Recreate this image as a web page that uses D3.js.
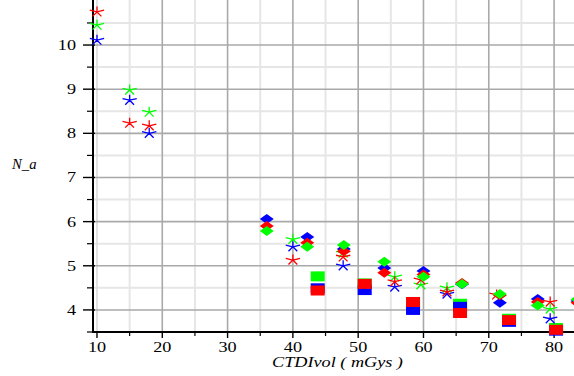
<!DOCTYPE html>
<html>
<head>
<meta charset="utf-8">
<script src="https://cdn.jsdelivr.net/npm/d3@7"></script>
<style>
  html, body { margin: 0; padding: 0; background: #fff; }
  svg { display: block; }
</style>
</head>
<body>
<svg id="chart" width="574" height="376"></svg>
<script>
// ---- data -------------------------------------------------------------
const xTicks = [10, 20, 30, 40, 50, 60, 70, 80];
const yTicks = [4, 5, 6, 7, 8, 9, 10];

// star markers
const starRedX   = [10, 15, 18, 40, 47.7, 55.6, 59.6, 63.6, 71.2, 79.4];
const starRedY   = [10.75, 8.23, 8.17, 5.13, 5.2, 4.64, 4.68, 4.41, 4.34, 4.18];
const starGreenX = [10, 15, 18, 40, 47.7, 55.6, 59.6, 63.6, 79.4];
const starGreenY = [10.45, 8.98, 8.48, 5.6, 5.29, 4.75, 4.57, 4.5, 4.02];
const starBlueX  = [10, 15, 18, 40, 47.7, 55.6, 63.6, 79.4];
const starBlueY  = [10.11, 8.75, 8.0, 5.43, 5.0, 4.52, 4.36, 3.8];

// diamond markers
const diaX      = [36, 42.2, 47.8, 54, 60, 65.9, 71.7, 77.5, 83.6];
const diaBlueY  = [6.06, 5.65, 5.38, 4.95, 4.88, 4.58, 4.16, 4.25, 4.2];
const diaRedY   = [5.9, 5.52, 5.33, 4.84, 4.8, 4.61, 4.33, 4.18, 4.16];
const diaGreenY = [5.79, 5.43, 5.47, 5.09, 4.75, 4.59, 4.36, 4.1, 4.24];

// square markers
const sqX      = [43.8, 51, 58.4, 65.6, 73.1, 80.3];
const sqGreenY = [4.76, 4.6, 4.12, 4.14, 3.8, 3.59];
const sqBlueY  = [4.49, 4.45, 4.0, 4.07, 3.73, 3.53];
const sqRedY   = [4.44, 4.59, 4.18, 3.93, 3.77, 3.55];

const RED = "#ff0000", GREEN = "#00ff00", BLUE = "#0000ff";
const FONT = '"Liberation Serif"';

// ---- layout -----------------------------------------------------------
const W = 574, H = 376;
const margin = { left: 93, top: 0, right: 0, bottom: 44 };
const svg = d3.select("#chart");

const x = d3.scaleLinear().domain([9.39, 83.05]).range([margin.left, W - margin.right]);
const y = d3.scaleLinear().domain([3.5, 11.02]).range([H - margin.bottom, margin.top]);

const x0 = margin.left, x1 = W - margin.right;
const y0 = H - margin.bottom, y1 = margin.top;

// ---- grid -------------------------------------------------------------
const grid = svg.append("g");
const xMinor = d3.range(15, 83, 10);
const yMinor = d3.range(3.5, 11.01, 1);

grid.selectAll(".xm").data(xMinor).join("line")
  .attr("x1", d => x(d)).attr("x2", d => x(d)).attr("y1", y0).attr("y2", y1)
  .attr("stroke", "#e6e6e6").attr("stroke-width", 2);
grid.selectAll(".ym").data(yMinor).join("line")
  .attr("y1", d => y(d)).attr("y2", d => y(d)).attr("x1", x0).attr("x2", x1)
  .attr("stroke", "#e6e6e6").attr("stroke-width", 2);
grid.selectAll(".xM").data(xTicks).join("line")
  .attr("x1", d => x(d)).attr("x2", d => x(d)).attr("y1", y0).attr("y2", y1)
  .attr("stroke", d => d === 10 ? "#dcdcdc" : "#a9a9a9").attr("stroke-width", 1.6);
grid.selectAll(".yM").data(yTicks).join("line")
  .attr("y1", d => y(d)).attr("y2", d => y(d)).attr("x1", x0).attr("x2", x1)
  .attr("stroke", "#a9a9a9").attr("stroke-width", 1.6);

// ---- axes -------------------------------------------------------------
const SX = 1.3; // wide lettering
const axes = svg.append("g");

// y axis ticks & labels
axes.selectAll(".ytM").data(yTicks).join("line")
  .attr("x1", x0 - 10).attr("x2", x0 + 2).attr("y1", d => y(d)).attr("y2", d => y(d))
  .attr("stroke", "#000").attr("stroke-width", 1.4);
axes.selectAll(".ytm").data(d3.range(3.5, 11.01, 1)).join("line")
  .attr("x1", x0 - 6).attr("x2", x0).attr("y1", d => y(d)).attr("y2", d => y(d))
  .attr("stroke", "#000").attr("stroke-width", 1.2);
axes.selectAll(".ytl").data(yTicks).join("text")
  .attr("transform", d => `translate(${x0 - 17},${y(d) + 5}) scale(${SX},1)`)
  .attr("text-anchor", "end").attr("font-size", 14).style("font-family", FONT)
  .attr("fill", "#000")
  .text(d => d);

// x axis ticks & labels
axes.selectAll(".xtM").data(xTicks).join("line")
  .attr("x1", d => x(d)).attr("x2", d => x(d)).attr("y1", y0).attr("y2", y0 + 6)
  .attr("stroke", "#000").attr("stroke-width", 1.4);
axes.selectAll(".xtm").data(xMinor).join("line")
  .attr("x1", d => x(d)).attr("x2", d => x(d)).attr("y1", y0).attr("y2", y0 + 4)
  .attr("stroke", "#000").attr("stroke-width", 1.2);
axes.selectAll(".xtl").data(xTicks).join("text")
  .attr("transform", d => `translate(${x(d)},${y0 + 20}) scale(${SX},1)`)
  .attr("text-anchor", "middle").attr("font-size", 14).style("font-family", FONT)
  .attr("fill", "#000")
  .text(d => d);

// axis lines
axes.append("line").attr("x1", x0).attr("x2", x0).attr("y1", y1).attr("y2", y0 + 1)
  .attr("stroke", "#000").attr("stroke-width", 2);
axes.append("line").attr("x1", x0 - 1).attr("x2", x1).attr("y1", y0).attr("y2", y0)
  .attr("stroke", "#000").attr("stroke-width", 2);

// titles
svg.append("text")
  .attr("transform", `translate(${(x0 + x1) / 2 + 4},${H - 9}) scale(1.3,1)`)
  .attr("text-anchor", "middle").attr("font-size", 14).attr("font-style", "italic")
  .style("font-family", FONT).attr("fill", "#000")
  .text("CTDIvol ( mGys )");
svg.append("text")
  .attr("transform", `translate(12,169) scale(1.05,1)`)
  .attr("font-size", 14).attr("font-style", "italic")
  .style("font-family", FONT).attr("fill", "#000")
  .text("N_a");

// ---- markers ----------------------------------------------------------
const marks = svg.append("g");

function zip(xs, ys) { return xs.map((v, i) => [v, ys[i]]); }

// five-armed asterisk, a little wider than tall
function starPath(rx, ry) {
  let p = "";
  for (let k = 0; k < 5; k++) {
    const a = (-90 + k * 72) * Math.PI / 180;
    p += `M0,0L${(rx * Math.cos(a)).toFixed(2)},${(ry * Math.sin(a)).toFixed(2)}`;
  }
  return p;
}
const STAR = starPath(7.5, 5.5);
const DIAMOND = "M0,-5L7,0L0,5L-7,0Z";

function squares(xs, ys, color) {
  marks.append("g").selectAll("rect").data(zip(xs, ys)).join("rect")
    .attr("x", d => x(d[0]) - 7).attr("y", d => y(d[1]) - 5)
    .attr("width", 14).attr("height", 10).attr("fill", color);
}
function diamonds(xs, ys, color) {
  marks.append("g").selectAll("path").data(zip(xs, ys)).join("path")
    .attr("transform", d => `translate(${x(d[0])},${y(d[1])})`)
    .attr("d", DIAMOND).attr("fill", color);
}
function stars(xs, ys, color) {
  marks.append("g").selectAll("path").data(zip(xs, ys)).join("path")
    .attr("transform", d => `translate(${x(d[0])},${y(d[1])})`)
    .attr("d", STAR).attr("fill", "none").attr("stroke", color).attr("stroke-width", 1.3);
}

squares(sqX, sqGreenY, GREEN);
squares(sqX, sqBlueY, BLUE);
squares(sqX, sqRedY, RED);

stars(starBlueX, starBlueY, BLUE);
stars(starGreenX, starGreenY, GREEN);
stars(starRedX, starRedY, RED);

diamonds(diaX, diaBlueY, BLUE);
diamonds(diaX, diaRedY, RED);
diamonds(diaX, diaGreenY, GREEN);
</script>
</body>
</html>
